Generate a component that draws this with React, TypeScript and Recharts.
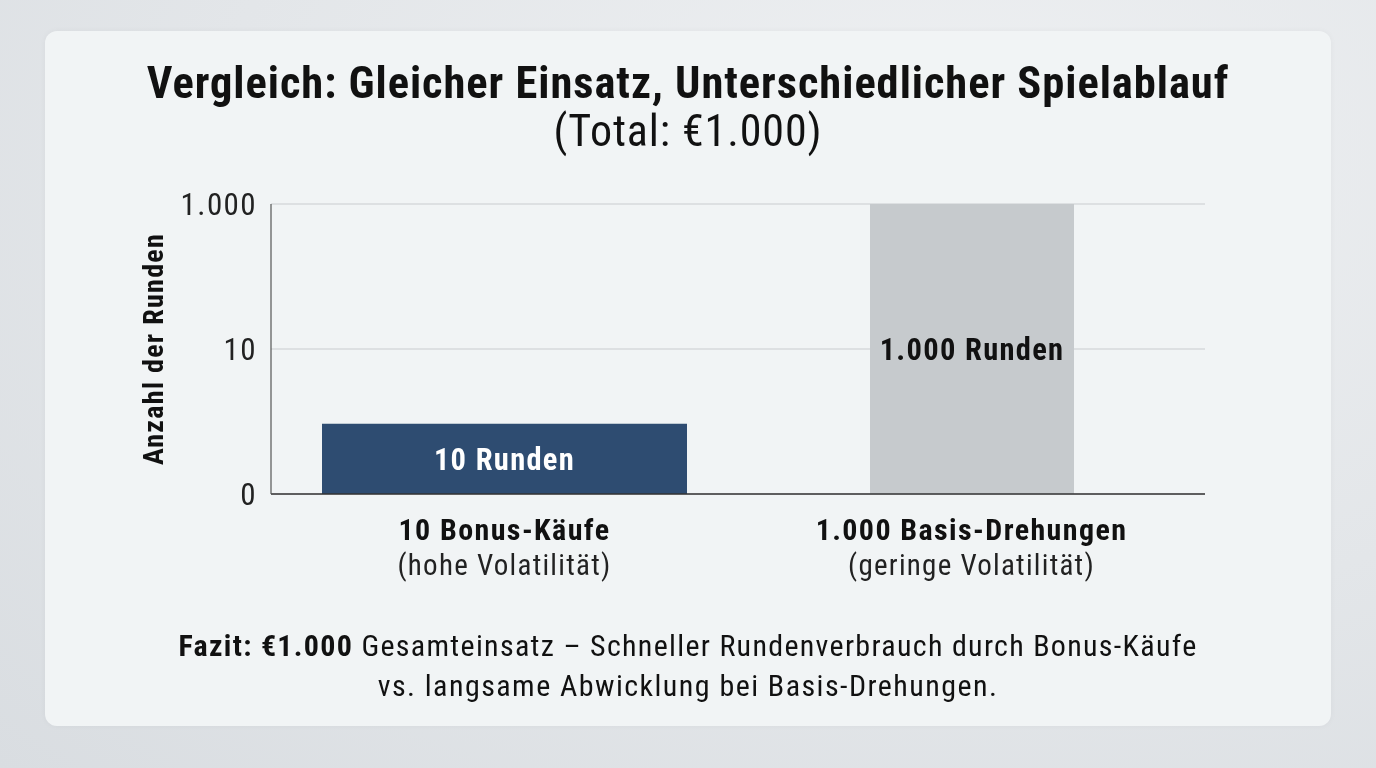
import React from "react";
import { BarChart, Bar, XAxis, YAxis, CartesianGrid, LabelList } from "recharts";

const categories = ["10 Bonus-Käufe", "1.000 Basis-Drehungen"];
const subLabels = ["(hohe Volatilität)", "(geringe Volatilität)"];
const rounds = [10, 1000];
const tickPositions = [0, 1, 2];
const tickLabels = ["0", "10", "1.000"];
const barColors = ["#2e4c71", "#c6cacd"];
const labelColors = ["#ffffff", "#111111"];

const FONT = '"Roboto Condensed", Roboto, sans-serif';

const data = categories.map((c, i) => ({
  category: c,
  sub: subLabels[i],
  bonus: i === 0 ? rounds[i] : null,
  basis: i === 1 ? rounds[i] : null,
}));

const fmt = (v: number) => String(v).replace(/\B(?=(\d{3})+(?!\d))/g, ".");

const XTick = (props: any) => {
  const { x, y, payload, index } = props;
  return (
    <text x={x} y={y} textAnchor="middle" fill="#111">
      <tspan x={x} dy={38} fontSize={30} fontWeight={700} letterSpacing={1.4}>{payload.value}</tspan>
      <tspan x={x} dy={34.5} fontSize={29} fontWeight={400} fill="#222" letterSpacing={1.25}>{subLabels[index]}</tspan>
    </text>
  );
};

const YLabel = (props: any) => {
  const { viewBox } = props;
  const cx = viewBox.x - 38;
  const cy = viewBox.y + viewBox.height / 2;
  return (
    <text x={cx} y={cy} dy="0.36em" transform={`rotate(-90 ${cx} ${cy})`} textAnchor="middle"
      fontSize={28} fontWeight={700} fill="#111" letterSpacing={1.3}>
      Anzahl der Runden
    </text>
  );
};

const barLabel = (color: string) => (props: any) => {
  const { x, y, width, height, value } = props;
  if (value == null) return null;
  return (
    <text x={x + width / 2} y={y + height / 2} dy="0.36em" textAnchor="middle"
      fontSize={30.5} fontWeight={700} fill={color} letterSpacing={1.3}>
      {`${fmt(value)} Runden`}
    </text>
  );
};

export default function App() {
  return (
    <div style={{ position: "fixed", left: 0, top: 0, width: 1376, height: 768, overflow: "hidden",
      background: "radial-gradient(ellipse at 70% 20%, #eef0f2 0%, #e3e6e9 55%, #d9dde1 100%)",
      fontFamily: FONT, fontStretch: "condensed" }}>
      <div style={{ position: "absolute", left: 45, top: 31, width: 1286, height: 695, borderRadius: 12,
        background: "#f1f4f5", boxShadow: "0 0 6px rgba(0,0,0,0.04)" }} />
      <div style={{ position: "absolute", left: 0, top: 59, width: 1376, textAlign: "center", color: "#111",
        lineHeight: "48px" }}>
        <div style={{ fontSize: 44.5, fontWeight: 700, letterSpacing: 0.95 }}>Vergleich: Gleicher Einsatz, Unterschiedlicher Spielablauf</div>
        <div style={{ fontSize: 44, fontWeight: 400, letterSpacing: 0.9 }}>(Total: €1.000)</div>
      </div>
      <div style={{ position: "absolute", left: 0, top: 0 }}>
        <BarChart width={1376} height={768} data={data}
          margin={{ top: 204, right: 171, bottom: 194, left: 191 }}>
          <CartesianGrid yAxisId="ticks" xAxisId="a" vertical={false} stroke="#c9cccf" strokeWidth={1.2} />
          <XAxis xAxisId="a" dataKey="category" height={80} tick={<XTick />} tickLine={false}
            axisLine={{ stroke: "#333", strokeWidth: 1.5 }} interval={0} />
          <XAxis xAxisId="b" dataKey="category" hide />
          <YAxis yAxisId="ticks" type="number" domain={[0, 2]} ticks={tickPositions} width={80}
            allowDataOverflow interval={0}
            tickFormatter={(v: number) => tickLabels[v]} tickLine={false}
            axisLine={{ stroke: "#555", strokeWidth: 1.2 }}
            tick={{ fontSize: 31, fill: "#222", letterSpacing: 1.4 }}
            tickMargin={8} label={<YLabel />} />
          <YAxis yAxisId="log" orientation="right" type="number" scale="log" domain={[2.3, 1000]}
            allowDataOverflow hide width={0} />
          <Bar xAxisId="a" yAxisId="log" dataKey="bonus" barSize={365} fill={barColors[0]} isAnimationActive={false}>
            <LabelList dataKey="bonus" content={barLabel(labelColors[0])} />
          </Bar>
          <Bar xAxisId="b" yAxisId="log" dataKey="basis" barSize={204} fill={barColors[1]} isAnimationActive={false}>
            <LabelList dataKey="basis" content={barLabel(labelColors[1])} />
          </Bar>
        </BarChart>
      </div>
      <div style={{ position: "absolute", left: 0, top: 626, width: 1376, textAlign: "center", color: "#111",
        fontSize: 30, lineHeight: "40px" }}>
        <div style={{ letterSpacing: 1.3 }}><b>Fazit: €1.000</b> Gesamteinsatz – Schneller Rundenverbrauch durch Bonus-Käufe</div>
        <div style={{ letterSpacing: 1.45 }}>vs. langsame Abwicklung bei Basis-Drehungen.</div>
      </div>
    </div>
  );
}
